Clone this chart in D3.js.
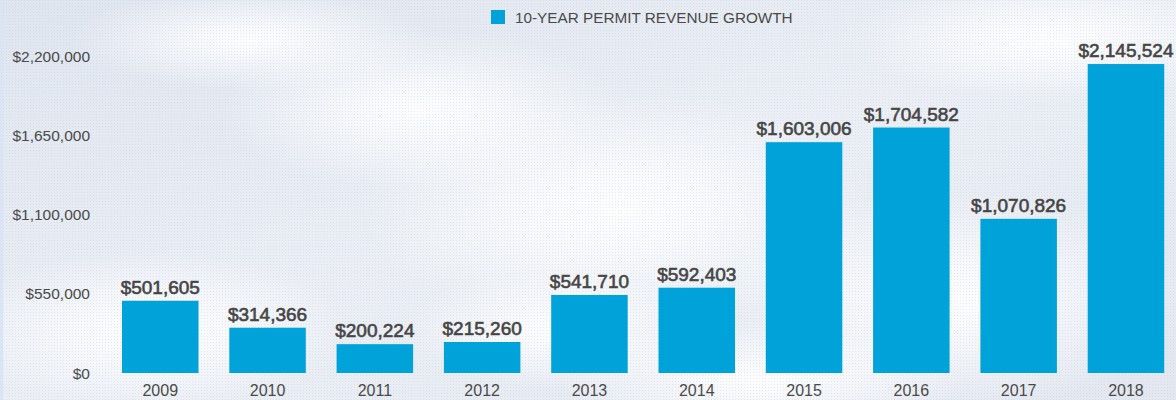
<!DOCTYPE html>
<html>
<head>
<meta charset="utf-8">
<script src="https://cdn.jsdelivr.net/npm/d3@7"></script>
<style>
html,body{margin:0;padding:0;background:#eef1f6;}
svg{display:block;}
</style>
</head>
<body>
<svg id="chart" width="1176" height="400"></svg>
<script>
const years = ["2009","2010","2011","2012","2013","2014","2015","2016","2017","2018"];
const revenue = [501605, 314366, 200224, 215260, 541710, 592403, 1603006, 1704582, 1070826, 2145524];
const yTicks = [0, 550000, 1100000, 1650000, 2200000];
const seriesName = "10-YEAR PERMIT REVENUE GROWTH";

const W = 1176, H = 400;
const svg = d3.select("#chart");
const defs = svg.append("defs");

// background
const lg = defs.append("linearGradient").attr("id","bg").attr("x1",0).attr("y1",0).attr("x2",1).attr("y2",1);
lg.append("stop").attr("offset","0%").attr("stop-color","#dfe5ef");
lg.append("stop").attr("offset","50%").attr("stop-color","#ebeff5");
lg.append("stop").attr("offset","100%").attr("stop-color","#e2e7f0");
svg.append("rect").attr("width",W).attr("height",H).attr("fill","url(#bg)");
const rg = defs.append("radialGradient").attr("id","blob");
rg.append("stop").attr("offset","0%").attr("stop-color","#ffffff").attr("stop-opacity",0.95);
rg.append("stop").attr("offset","100%").attr("stop-color","#ffffff").attr("stop-opacity",0);
const blobs = [[620,210,260,120],[420,110,200,80],[950,300,240,110],[150,330,200,80],[1050,40,200,60],[250,40,180,50],[760,380,200,60],[560,330,160,60]];
svg.append("g").selectAll("ellipse").data(blobs).join("ellipse")
  .attr("cx",d=>d[0]).attr("cy",d=>d[1]).attr("rx",d=>d[2]).attr("ry",d=>d[3])
  .attr("fill","url(#blob)");
const pat = defs.append("pattern").attr("id","dots").attr("width",3).attr("height",3).attr("patternUnits","userSpaceOnUse");
pat.append("rect").attr("width",1).attr("height",1).attr("fill","#c5cede").attr("opacity",0.4);
svg.append("rect").attr("width",W).attr("height",H).attr("fill","url(#dots)");
svg.append("rect").attr("x",0).attr("y",0).attr("width",3).attr("height",H).attr("fill","#d9e4f5");

const x = d3.scaleBand().domain(years).range([106.6, 1179.6]).paddingInner(0.287).paddingOuter(0.1435);
const y = d3.scaleLinear().domain([0, 2200000]).range([373, 56.2]);

const FONT = "'Liberation Sans', Arial, Helvetica, sans-serif";

// y axis labels
const fmtAxis = v => "$" + d3.format(",")(v);
svg.append("g").selectAll("text").data(yTicks).join("text")
  .attr("x", 90).attr("y", d => y(d)).attr("dy","0.36em")
  .attr("text-anchor","end")
  .attr("font-family",FONT)
  .attr("font-size",15.5).attr("fill","#4a4a4a")
  .text(fmtAxis);

// bars
svg.append("g").selectAll("rect").data(revenue).join("rect")
  .attr("x",(d,i)=>x(years[i])).attr("width",x.bandwidth())
  .attr("y",d=>y(d)).attr("height",d=>y(0)-y(d))
  .attr("fill","#00a3d9");

// value labels
svg.append("g").selectAll("text").data(revenue).join("text")
  .attr("x",(d,i)=>x(years[i])+x.bandwidth()/2)
  .attr("y",d=>y(d)-7)
  .attr("text-anchor","middle")
  .attr("font-family",FONT)
  .attr("font-size",19).attr("fill","#454545")
  .attr("stroke","#454545").attr("stroke-width",0.6)
  .text(d=>"$"+d3.format(",")(d));

// x labels
svg.append("g").selectAll("text").data(years).join("text")
  .attr("x",d=>x(d)+x.bandwidth()/2).attr("y",396)
  .attr("text-anchor","middle")
  .attr("font-family",FONT)
  .attr("font-size",16).attr("fill","#4a4a4a")
  .text(d=>d);

// legend
const leg = svg.append("g");
leg.append("rect").attr("x",491).attr("y",10).attr("width",14).attr("height",14).attr("fill","#00a3d9");
leg.append("text").attr("x",515).attr("y",23)
  .attr("font-family",FONT)
  .attr("font-size",15.3).attr("fill","#4a4a4a")
  .text(seriesName);
</script>
</body>
</html>
